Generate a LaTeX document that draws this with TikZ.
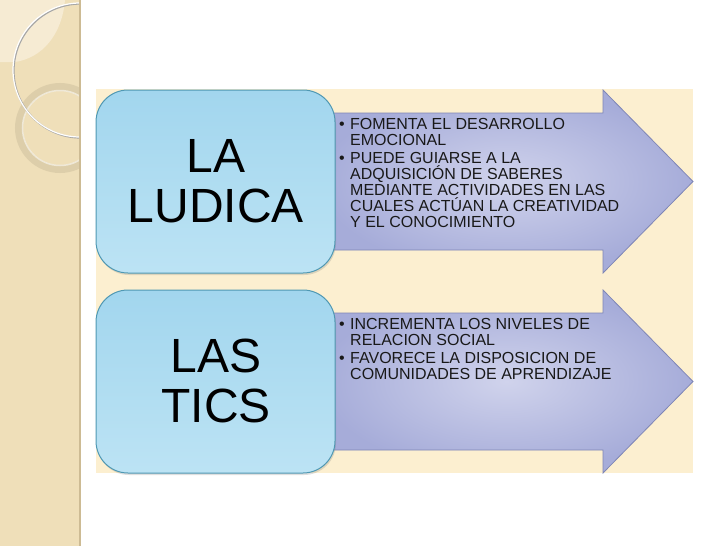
\documentclass[tikz,border=0pt]{standalone}
\usepackage{fontspec}
\setmainfont{Liberation Sans}
\usetikzlibrary{shadows}
\definecolor{strip}{HTML}{EFDFB9}
\definecolor{stripedge}{HTML}{CDBB94}
\definecolor{stripLight}{HTML}{F6EBD3}
\definecolor{cream}{HTML}{FCEFD0}
\definecolor{boxTop}{HTML}{A2D6EE}
\definecolor{boxBot}{HTML}{BCE3F4}
\definecolor{boxLine}{HTML}{4F98B3}
\definecolor{arrOut}{HTML}{A6ACD9}
\definecolor{arrIn}{HTML}{D0D3EC}
\definecolor{arrLine}{HTML}{7F86B6}
\definecolor{ringTan}{HTML}{D8C9A6}
\tikzset{
  bigbox/.style={draw=boxLine, line width=1pt, rounded corners=32pt,
    top color=boxTop, bottom color=boxBot, minimum width=239pt, minimum height=183pt,
    inner sep=0pt, drop shadow={opacity=0.25, shadow xshift=1pt, shadow yshift=-2pt}},
  arrowshape/.style={draw=arrLine, line width=0.8pt, inner color=arrIn, outer color=arrOut},
  bigtext/.style={font=\fontsize{48}{50}\selectfont, inner sep=0pt, anchor=base},
  bultext/.style={font=\fontsize{16}{16}\selectfont, inner sep=0pt, anchor=base west, text=black!90}
}
\begin{document}
\begin{tikzpicture}[x=1pt, y=-1pt]
\useasboundingbox (0,0) rectangle (728,546);
\fill[white] (0,0) rectangle (728,546);
% left decorative strip
\fill[strip] (0,0) rectangle (80,546);
\begin{scope}
  \clip (0,0) rectangle (80,546);
  \fill[stripLight] (0,0) -- (65,0) .. controls (62,35) and (42,58) .. (15,62) -- (0,62) -- cycle;
  \draw[ringTan, line width=8pt, opacity=0.75] (60,128) circle (41);
  \draw[white!90!ringTan, line width=1.5pt, opacity=0.6] (60,128) circle (37.5);
  \draw[black!35, line width=1.6pt] (80.8,70.8) circle (67);
  \draw[white, line width=1.2pt] (80,70) circle (67);
\end{scope}
\draw[stripedge, line width=2pt] (80,0) -- (80,546);
% cream background
\fill[cream] (96,89) rectangle (693,473);
% arrows
\path[arrowshape] (320,113) -- (603,113) -- (603,90) -- (693,181.5) -- (603,273) -- (603,250) -- (320,250) -- cycle;
\path[arrowshape] (320,313) -- (603,313) -- (603,290) -- (693,381.5) -- (603,473) -- (603,450) -- (320,450) -- cycle;
% boxes
\node[bigbox] (b1) at (215.5,181.5) {};
\node[bigbox] (b2) at (215.5,381.5) {};
\node[bigtext] (l1) at (216,172) {\begin{tabular}[t]{@{}c@{}}LA\\LUDICA\end{tabular}};
\node[bigtext] (l2) at (216,372) {\begin{tabular}[t]{@{}c@{}}LAS\\TICS\end{tabular}};
% bullet texts
\node[bultext] (t1) at (339,129) {\begin{tabular}[t]{@{}p{11pt}@{}l@{}}
\textbullet & FOMENTA EL DESARROLLO\\
 & EMOCIONAL\\[2pt]
\textbullet & PUEDE GUIARSE A LA\\
 & \smash{ADQUISICIÓN DE SABERES}\\
 & MEDIANTE ACTIVIDADES EN LAS\\
 & \smash{CUALES ACTÚAN LA CREATIVIDAD}\\
 & Y EL CONOCIMIENTO
\end{tabular}};
\node[bultext] (t2) at (339,329) {\begin{tabular}[t]{@{}p{11pt}@{}l@{}}
\textbullet & INCREMENTA LOS NIVELES DE\\
 & RELACION SOCIAL\\[2pt]
\textbullet & FAVORECE LA DISPOSICION DE\\
 & COMUNIDADES DE APRENDIZAJE
\end{tabular}};
\end{tikzpicture}
\end{document}
